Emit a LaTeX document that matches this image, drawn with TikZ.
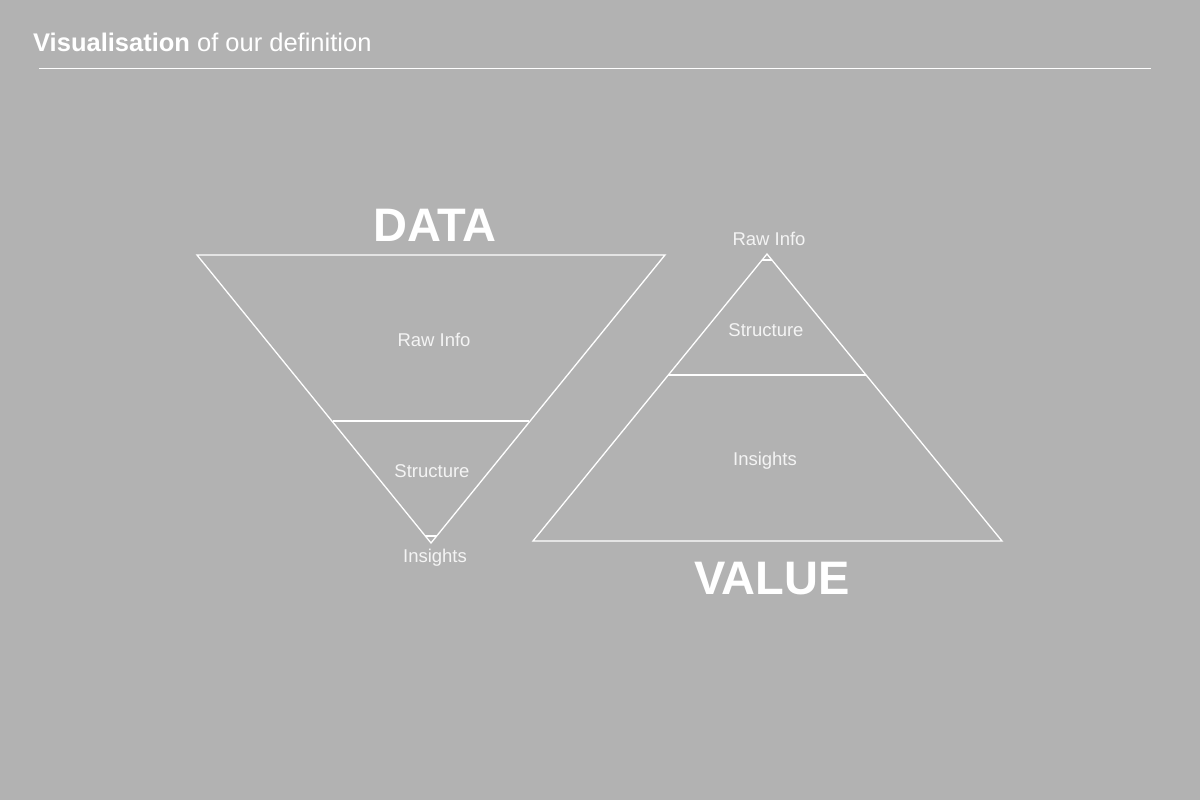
\documentclass[tikz,border=0pt]{standalone}
\usepackage{fontspec}
\setmainfont{Liberation Sans}
\definecolor{bg}{HTML}{B2B2B2}
\definecolor{lbl}{HTML}{F4F4F4}
\begin{document}
\begin{tikzpicture}[x=1pt,y=-1pt,
  shape line/.style={draw=white,line width=1.3pt,line join=miter},
  big/.style={text=white,font=\fontsize{47}{52}\selectfont\bfseries,inner sep=0pt,anchor=base},
  lab/.style={text=lbl,font=\fontsize{18.5}{22}\selectfont,inner sep=0pt}]
\fill[bg] (0,0) rectangle (1200,800);
\useasboundingbox (0,0) rectangle (1200,800);
% title
\node[anchor=base west,inner sep=0pt,text=white,font=\fontsize{25.5}{30}\selectfont] (title) at (33,52) {\textbf{Visualisation} of our definition};
\draw[white,line width=0.9pt] (39,68) -- (1151,68);
% left inverted triangle
\draw[shape line] (197,255) -- (665,255) -- (431,543) -- cycle;
\draw[shape line] (333,421) -- (529,421);
\draw[shape line] (425.3,536) -- (436.7,536);
\node[big] (data) at (435,241) {DATA};
\node[lab] (l1) at (434,340) {Raw Info};
\node[lab] (l2) at (432,471) {Structure};
\node[lab] (l3) at (435,558) {Insights};
% right triangle
\draw[shape line] (767,254) -- (1002,541) -- (533,541) -- cycle;
\draw[shape line] (668,375) -- (866,375);
\draw[shape line] (762.1,260) -- (771.9,260);
\node[big] (value) at (772,594) {VALUE};
\node[lab] (r1) at (769,239) {Raw Info};
\node[lab] (r2) at (766,330) {Structure};
\node[lab] (r3) at (765,461) {Insights};
\end{tikzpicture}
\end{document}
